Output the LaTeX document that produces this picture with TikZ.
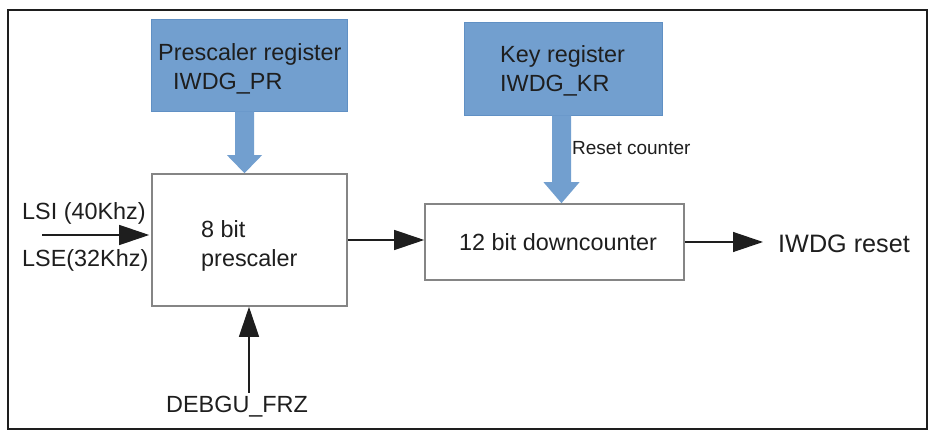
\documentclass[tikz,border=0pt]{standalone}
\usepackage{fontspec}
\setmainfont{Liberation Sans}
\usetikzlibrary{calc,arrows.meta}
\definecolor{regblue}{HTML}{729FCF}
\definecolor{regedge}{HTML}{6090C4}
\definecolor{boxedge}{HTML}{858585}
\definecolor{ink}{HTML}{1E1E1E}
\tikzset{
  regbox/.style={rectangle, fill=regblue, draw=regedge, line width=0.8pt, inner sep=0pt},
  blkbox/.style={rectangle, fill=white, draw=boxedge, line width=1.6pt, inner sep=0pt},
  txt/.style={anchor=base west, inner sep=0pt, text=ink, font=\fontsize{23.4}{28}\selectfont},
  smalltxt/.style={anchor=base west, inner sep=0pt, text=ink, font=\fontsize{19}{23}\selectfont},
  bigtxt/.style={anchor=base west, inner sep=0pt, text=ink, font=\fontsize{25.2}{30}\selectfont},
  sig/.style={draw=ink, line width=1.3pt, -{Triangle[length=30pt,width=20pt]}},
  fatblue/.style={fill=regblue}
}
\begin{document}
\begin{tikzpicture}[x=1pt,y=-1pt]
\useasboundingbox (0,0) rectangle (938,438);
% outer frame
\draw[draw=ink, line width=2.4pt] (8,10) rectangle (927,429);
% boxes
\node[regbox, minimum width=196pt, minimum height=92pt] (pr) at (249,65) {};
\node[regbox, minimum width=198pt, minimum height=93pt] (kr) at (563,68.5) {};
\node[blkbox, minimum width=195pt, minimum height=132pt] (pre) at (249.5,240) {};
\node[blkbox, minimum width=259pt, minimum height=76pt] (dc) at (554.5,242) {};
% texts
\node[txt] (prt1) at (158,61) {Prescaler register};
\node[txt] (prt2) at (173,90) {IWDG\_PR};
\node[txt] (krt1) at (500,63) {Key register};
\node[txt] (krt2) at (500,92) {IWDG\_KR};
\node[txt] (pret1) at (201,238) {8 bit};
\node[txt] (pret2) at (201,267) {prescaler};
\node[txt] (dct) at (459,251) {12 bit downcounter};
\node[txt] (lsi) at (22,220) {LSI (40Khz)};
\node[txt] (lse) at (22,267) {LSE(32Khz)};
\node[txt] (dbg) at (166,413) {DEBGU\_FRZ};
\node[bigtxt] (rst) at (778,253) {IWDG reset};
\node[smalltxt] (rct) at (572,155) {Reset counter};
% fat arrows
\coordinate (a1s) at ($(pr.south)+(-4.5,0)$);
\coordinate (a1e) at ($(pre.north)+(-5,0)$);
\fill[fatblue] ($(a1s)+(-9.5,0)$) -- ($(a1e)+(-9.5,-18)$) -- ($(a1e)+(-17.5,-18)$) -- (a1e)
  -- ($(a1e)+(17.5,-18)$) -- ($(a1e)+(9.5,-18)$) -- ($(a1s)+(9.5,0)$) -- cycle;
\coordinate (a2s) at ($(kr.south)+(-1.5,0)$);
\coordinate (a2e) at ($(dc.north)+(7,0)$);
\fill[fatblue] ($(a2s)+(-9.5,0)$) -- ($(a2e)+(-9.5,-21)$) -- ($(a2e)+(-18,-21)$) -- (a2e)
  -- ($(a2e)+(18,-21)$) -- ($(a2e)+(9.5,-21)$) -- ($(a2s)+(9.5,0)$) -- cycle;
% signal arrows
\coordinate (lsiin) at (42,235);
\draw[sig, shorten >=2pt] (lsiin) -- (lsiin -| pre.west);
\draw[sig] (pre.east) -- (pre.east -| dc.west);
\draw[sig, shorten >=15pt] (dc.east) -- (dc.east -| rst.west);
\coordinate (dbgtop) at (249,393);
\draw[sig] (dbgtop) -- (dbgtop |- pre.south);
\end{tikzpicture}
\end{document}
